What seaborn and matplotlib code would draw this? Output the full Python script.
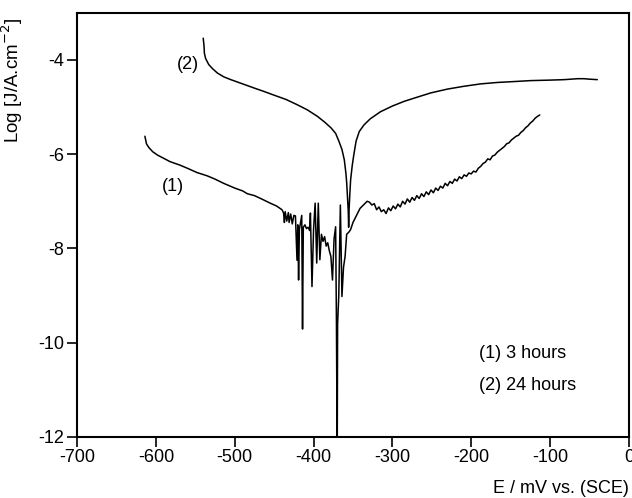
import pandas as pd
import matplotlib.pyplot as plt
import seaborn as sns

# curve (1): 3 hours  -- potential (mV vs SCE) and log current density
e_3h = [-614, -612, -609, -604, -598, -590, -582, -570, -560, -548, -535, -525,
        -514, -500, -490, -484, -475, -466, -455, -447, -440,
        -438, -437, -436, -434, -432, -431, -429, -427, -425, -423, -421, -420,
        -419, -418, -416, -415, -414, -413, -411, -409, -407, -405, -404, -402,
        -400, -398, -396, -394, -392, -390, -388, -386, -384, -382, -380, -378,
        -376, -374, -372, -371, -370, -369.5, -368, -366, -364, -362, -360, -358,
        -355, -353, -350, -347, -344, -341, -338, -335, -332, -329, -326, -323,
        -320, -317, -314, -311, -308, -305, -302, -299, -296, -293, -290, -287,
        -284, -281, -278, -275, -272, -269, -266, -263, -260, -257, -254, -251,
        -248, -245, -242, -239, -236, -233, -230, -227, -224, -221, -218, -215,
        -212, -209, -206, -203, -200, -197, -194, -191, -188, -185, -182, -179,
        -176, -173, -170, -167, -164, -161, -158, -155, -152, -149, -146, -143,
        -140, -137, -134, -131, -128, -125, -122, -119, -116, -113]
logj_3h = [-5.62, -5.78, -5.86, -5.95, -6.02, -6.09, -6.16, -6.23, -6.30, -6.39, -6.46, -6.53,
           -6.62, -6.72, -6.78, -6.84, -6.88, -6.95, -7.04, -7.10, -7.18,
           -7.25, -7.45, -7.22, -7.42, -7.24, -7.45, -7.27, -7.48, -7.30, -7.31, -8.25, -7.50,
           -8.67, -7.60, -7.40, -7.30, -9.71, -7.55, -7.50, -7.58, -7.55, -7.62, -7.25, -8.81,
           -7.60, -7.04, -8.31, -7.04, -8.24, -7.70, -7.85, -7.75, -7.95, -7.88, -8.05, -8.17,
           -8.67, -7.80, -7.54, -9.52, -12.5, -9.60, -9.00, -7.08, -9.02, -8.40, -8.17, -7.70,
           -7.65, -7.60, -7.45, -7.35, -7.25, -7.15, -7.10, -7.05, -7.00, -7.02, -7.08, -7.05,
           -7.18, -7.12, -7.22, -7.18, -7.26, -7.14, -7.20, -7.10, -7.16, -7.06, -7.12, -7.00,
           -7.06, -6.95, -7.02, -6.92, -6.98, -6.88, -6.94, -6.84, -6.90, -6.80, -6.86, -6.76,
           -6.82, -6.72, -6.77, -6.68, -6.72, -6.62, -6.67, -6.58, -6.62, -6.53, -6.57, -6.48,
           -6.52, -6.44, -6.47, -6.40, -6.42, -6.36, -6.38, -6.30, -6.26, -6.20, -6.17, -6.10,
           -6.12, -6.04, -6.02, -5.96, -5.92, -5.88, -5.84, -5.78, -5.76, -5.70, -5.66, -5.62,
           -5.60, -5.54, -5.50, -5.44, -5.40, -5.34, -5.30, -5.24, -5.20, -5.17]

# curve (2): 24 hours
e_24h = [-540, -539, -538.5, -537, -533, -528, -522, -514, -505, -490, -475, -463,
         -450, -435, -421, -408, -395, -386, -378, -372, -368, -364, -361, -359,
         -358, -357, -356, -355.5, -355, -354, -353, -351, -349, -346, -342, -336,
         -328, -315, -300, -285, -270, -251, -230, -209, -188, -167, -145, -124,
         -100, -82, -65, -57, -50, -40]
logj_24h = [-3.54, -3.70, -3.86, -3.97, -4.10, -4.19, -4.28, -4.36, -4.42, -4.51, -4.60, -4.67,
            -4.75, -4.84, -4.95, -5.06, -5.20, -5.32, -5.44, -5.56, -5.72, -5.90, -6.12, -6.40,
            -6.60, -6.90, -7.20, -7.55, -7.20, -6.85, -6.55, -6.25, -6.02, -5.72, -5.52, -5.38,
            -5.25, -5.10, -4.98, -4.88, -4.80, -4.70, -4.62, -4.56, -4.51, -4.48, -4.46, -4.44,
            -4.43, -4.42, -4.40, -4.40, -4.41, -4.42]

df1 = pd.DataFrame({'E': e_3h, 'logJ': logj_3h})
df2 = pd.DataFrame({'E': e_24h, 'logJ': logj_24h})

sns.set_style('ticks')
plt.rcParams['font.family'] = ['Liberation Sans', 'DejaVu Sans']
plt.rcParams['axes.unicode_minus'] = False
plt.rcParams['text.color'] = 'black'
plt.rcParams['axes.labelcolor'] = 'black'

fig = plt.figure(figsize=(6.32, 4.98), dpi=100)
ax = fig.add_axes([0.122, 0.1225, 0.873, 0.852])

sns.lineplot(data=df1, x='E', y='logJ', sort=False, estimator=None,
             color='black', linewidth=1.1, ax=ax)
sns.lineplot(data=df2, x='E', y='logJ', sort=False, estimator=None,
             color='black', linewidth=1.1, ax=ax)

ax.set_xlim(-700, 0)
ax.set_ylim(-12, -3)
ax.set_xticks(range(-700, 1, 100))
ax.set_yticks([-12, -10, -8, -6, -4])
ax.tick_params(direction='out', length=7, width=1.2, labelsize=13, pad=2,
               colors='black')
for s in ax.spines.values():
    s.set_linewidth(1.5)
    s.set_color('black')

ax.set_xlabel('')
ax.set_ylabel('Log [J/A.cm$^{-2}$]', fontsize=13.5)
ax.yaxis.set_label_coords(-0.094, 0.84)
fig.text(0.995, 0.02, 'E / mV vs. (SCE)', ha='right', va='center', fontsize=13)

ax.text(-559, -4.10, '(2)', fontsize=13, ha='center', va='center')
ax.text(-578, -6.69, '(1)', fontsize=13, ha='center', va='center')
ax.text(-190, -10.23, '(1) 3 hours', fontsize=13, ha='left', va='center')
ax.text(-190, -10.91, '(2) 24 hours', fontsize=13, ha='left', va='center')

plt.savefig('out.png', dpi=100)
